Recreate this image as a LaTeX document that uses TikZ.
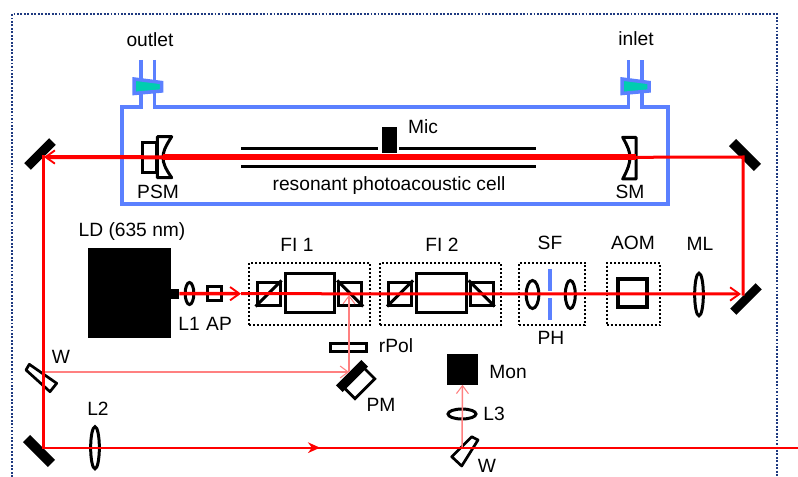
\documentclass[tikz,border=0pt]{standalone}
\usepackage{fontspec}
\setmainfont{Liberation Sans}
\usetikzlibrary{arrows.meta,shapes.geometric}
\definecolor{cellblue}{HTML}{5B80FF}
\definecolor{teal1}{HTML}{00CDB0}
\definecolor{outerdot}{HTML}{1F3A80}
\definecolor{paler}{HTML}{FF8080}
\tikzset{
 lw/.style={line width=#1*0.75pt},
 lab/.style={font=\fontsize{14.4pt}{16pt}\selectfont,text=black,inner sep=0pt,anchor=center},
 lens/.style={draw=black,lw=3,ellipse,inner sep=0pt},
 blk/.style={fill=black,draw=none,rectangle,inner sep=0pt},
 opt/.style={draw=black,lw=3,rectangle,inner sep=0pt},
 dotbox/.style={draw=black,lw=2,dash pattern=on 1.5pt off 1.5pt,rectangle,inner sep=0pt},
 beam/.style={draw=red,lw=#1},
 beam/.default=3,
 pale/.style={draw=paler,lw=1.5},
 palebarb/.style={-{Straight Barb[length=6pt,width=9pt,line width=0.8pt]}},
 barb/.style={-{Straight Barb[length=7pt,width=10pt,line width=1.4pt]}},
 solidtip/.style={-{Stealth[length=9pt,width=8pt]}},
 cellline/.style={draw=cellblue,lw=3.5},
 tube/.style={draw=black,lw=3},
}
\begin{document}
\begin{tikzpicture}[x=0.75pt,y=-0.75pt]
\useasboundingbox (0,0) rectangle (798,477);
% outer dotted frame
\coordinate (fa) at (12,477); \coordinate (fb) at (12,14); \coordinate (fc) at (777,14); \coordinate (fd) at (777,477);
\draw[outerdot,lw=2,dash pattern=on 1.4pt off 1.2pt] (fa) -- (fb) -- (fc) -- (fd);
% cell
\draw[cellline,line join=miter] (141,60) -- (141,107) -- (122,107) -- (122,204) -- (668,204) -- (668,107) -- (642,107) -- (642,60);
\draw[cellline] (154.7,60) -- (154.7,107) -- (628.5,107) -- (628.5,60);
\draw[draw=cellblue,lw=3.5,fill=teal1] (134,79) -- (161.5,82.5) -- (161.5,91) -- (134,93.5) -- cycle;
\draw[draw=cellblue,lw=3.5,fill=teal1] (622,79) -- (649,82.5) -- (649,91) -- (622,93.5) -- cycle;
% tube of the cell
\coordinate (t1) at (241,148.3); \coordinate (t2) at (378,148.3); \coordinate (t3) at (399,148.3); \coordinate (t4) at (536,148.3);
\coordinate (t5) at (241,167); \coordinate (t6) at (536,167);
\draw[tube] (t1) -- (t2); \draw[tube] (t3) -- (t4); \draw[tube] (t5) -- (t6);
\node[blk,minimum width=11.25pt,minimum height=19.9pt] (mic) at (389.5,139.8) {};
% PSM and SM
\node[opt,minimum width=10.5pt,minimum height=21.8pt] (psmr) at (149.7,157.5) {};
\draw[black,lw=3,line join=round] (157.3,136.7) -- (171.7,136.7) .. controls (165,147) and (163,152) .. (163,157.3) .. controls (163,163) and (165,168) .. (171.7,177.7) -- (157.3,177.7) -- cycle;
\draw[black,lw=3,line join=round] (636,137.3) -- (622.7,137.3) .. controls (628,147) and (630,152) .. (630,157.3) .. controls (630,163) and (628,169) .. (622.7,179) -- (636,179) -- cycle;
% mirrors
\node[blk,rotate=45,minimum width=26.5pt,minimum height=7pt] (mTL) at (40,154) {};
\node[blk,rotate=-45,minimum width=26.5pt,minimum height=7.5pt] (mTR) at (745,155) {};
\node[blk,rotate=45,minimum width=27pt,minimum height=6.5pt] (mBR) at (746,299) {};
\node[blk,rotate=-45,minimum width=26.5pt,minimum height=7.5pt] (mBL) at (39,451) {};
% laser and optics
\node[blk,minimum width=62.25pt,minimum height=67.5pt] (ld) at (129.5,293) {};
\node[blk,minimum width=6pt,minimum height=7.5pt] (nose) at (175,293.5) {};
\node[lens,minimum width=6.5pt,minimum height=16.5pt] (l1) at (189.5,293.5) {};
\node[opt,minimum width=10.5pt,minimum height=10pt] (ap) at (214,293.5) {};
% FI 1
\node[dotbox,minimum width=90.75pt,minimum height=46.5pt] (fi1) at (309.5,294) {};
\node[opt,minimum width=17.25pt,minimum height=17.25pt] (p1a) at (268.5,293.5) {};
\node[opt,minimum width=37pt,minimum height=29pt] (fr1) at (309.7,292.7) {};
\node[opt,minimum width=17.25pt,minimum height=17.25pt] (p1b) at (350.2,293.5) {};
\draw[black,lw=3] (p1a.south west) -- (p1a.north east);
\draw[black,lw=3] (p1b.north west) -- (p1b.south east);
% FI 2
\node[dotbox,minimum width=90.75pt,minimum height=46.5pt] (fi2) at (440.7,294) {};
\node[opt,minimum width=17.25pt,minimum height=17.25pt] (p2a) at (400,293.5) {};
\node[opt,minimum width=37.5pt,minimum height=29pt] (fr2) at (441,292.7) {};
\node[opt,minimum width=17.25pt,minimum height=17.25pt] (p2b) at (481.7,293.5) {};
\draw[black,lw=3] (p2a.south west) -- (p2a.north east);
\draw[black,lw=3] (p2b.north west) -- (p2b.south east);
% SF
\node[dotbox,minimum width=49.5pt,minimum height=46.9pt] (sf) at (552,294.2) {};
\node[lens,minimum width=9.5pt,minimum height=21pt] (sfa) at (532.5,294.5) {};
\node[lens,minimum width=7.5pt,minimum height=21pt] (sfb) at (570.3,294.5) {};
\coordinate (ph1) at (550,269); \coordinate (ph2) at (550,291); \coordinate (ph3) at (550,298); \coordinate (ph4) at (550,320);
\draw[cellline] (ph1) -- (ph2); \draw[cellline] (ph3) -- (ph4);
% AOM
\node[dotbox,minimum width=40pt,minimum height=46.9pt] (aomb) at (633.2,294.2) {};
\node[opt,lw=3.5,minimum width=21.5pt,minimum height=21pt] (aom) at (632.5,293) {};
\node[lens,minimum width=6.5pt,minimum height=32pt] (ml) at (699,294.5) {};
% return path optics
\node[lens,minimum width=6.5pt,minimum height=31.5pt] (l2) at (95,447.7) {};
\node[opt,lw=2.7,minimum width=27.5pt,minimum height=6pt] (rpol) at (348.5,347.5) {};
\node[blk,minimum width=23.25pt,minimum height=23.25pt] (mon) at (462.5,369) {};
\node[lens,minimum width=21pt,minimum height=7.5pt] (l3) at (462,414) {};
\node[opt,rotate=45,lw=2.7,minimum width=21pt,minimum height=11.5pt] (pmb) at (359.5,383.3) {};
\node[blk,rotate=45,minimum width=27pt,minimum height=7pt] (pm) at (352,376) {};
% wedges
\draw[black,lw=2.7,line join=round] (29.3,364.3) -- (56.7,383.3) -- (50,391.7) -- (26,370) -- cycle;
\draw[black,lw=2.7,line join=round] (471.7,436.7) -- (478,440) -- (461.7,466) -- (451.7,456.7) -- cycle;
% beam coordinates
\coordinate (bSM) at (636,157.3);
\coordinate (bPSM) at (163,157.3);
\coordinate (cTR) at (743,157);
\coordinate (cTL) at (44,157);
\coordinate (cBR) at (743,294);
\coordinate (cBRt) at (741,294);
\coordinate (cBL) at (43,447.7);
\coordinate (mid) at (320,447.7);
\coordinate (endb) at (798,447.7);
\coordinate (wL) at (43,372);
\coordinate (pmhit) at (349,372);
\coordinate (fwd) at (241,293.7);
\coordinate (wB) at (462,447.7);
\coordinate (polb) at (349,295);
% beams
\draw[pale,palebarb] (wL) -- (pmhit);
\draw[pale,palebarb] (pmhit) -- (polb);
\draw[pale,palebarb] (wB) -- (mon.south);
\draw[beam=3.5,barb] (nose.east) -- (fwd);
\draw[beam=3,barb] (fwd) -- (cBRt);
\draw[beam=3,line cap=rect] (cBR) -- (cTR) -- (bSM);
\draw[beam=6] (bSM) -- (bPSM);
\draw[beam=4,barb] (bPSM) -- (cTL);
\draw[beam=3,line cap=rect] (43,157) -- (cBL);
\draw[beam=2.2] (cBL) -- (endb);
\draw[beam=2.2,solidtip] (cBL) -- (mid);
% labels
\node[lab] (toutlet) at (150,40) {outlet};
\node[lab] (tinlet) at (636,39) {inlet};
\node[lab] (tpsm) at (158,192) {PSM};
\node[lab] (tsm) at (630,192) {SM};
\node[lab] (tmic) at (423,127) {Mic};
\node[lab] (tcell) at (389,186) {resonant photoacoustic cell};
\node[lab] (tld) at (132,232) {LD (635 nm)};
\node[lab] (tl1) at (189,324) {L1};
\node[lab] (tap) at (219,324) {AP};
\node[lab] (tfi1) at (297,245) {FI 1};
\node[lab] (tfi2) at (442,245) {FI 2};
\node[lab] (tsf) at (550,243) {SF};
\node[lab] (taom) at (633,243) {AOM};
\node[lab] (tml) at (700,244) {ML};
\node[lab] (tph) at (551,338) {PH};
\node[lab] (trpol) at (396,346) {rPol};
\node[lab] (tmon) at (508,372) {Mon};
\node[lab] (tpm) at (381,405) {PM};
\node[lab] (tl3) at (494,414) {L3};
\node[lab] (tw2) at (487,466) {W};
\node[lab] (tw1) at (61,357) {W};
\node[lab] (tl2) at (98,409) {L2};
\end{tikzpicture}
\end{document}
